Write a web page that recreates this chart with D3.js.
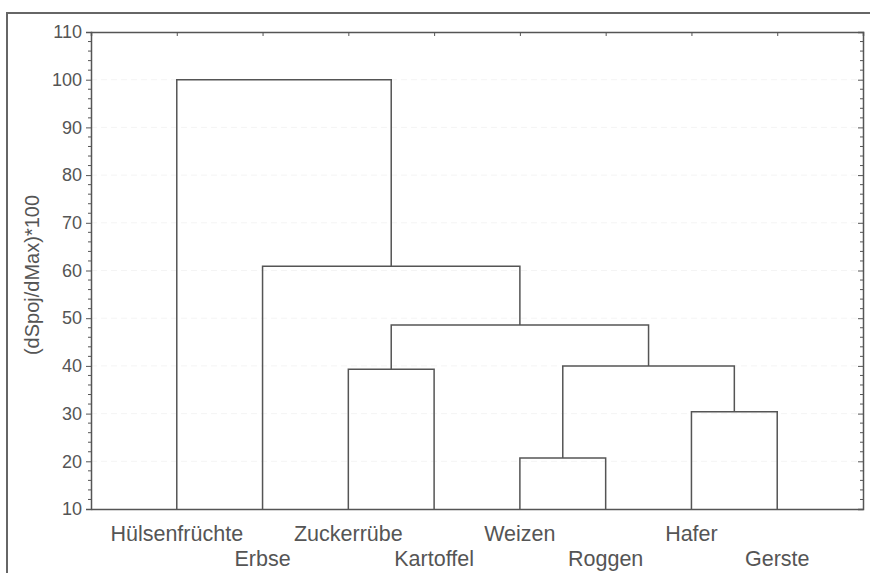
<!DOCTYPE html>
<html>
<head>
<meta charset="utf-8">
<script src="https://cdn.jsdelivr.net/npm/d3@7"></script>
<style>
  body { margin: 0; background: #fff; }
  svg { display: block; font-family: "Liberation Sans", Arial, sans-serif; }
</style>
</head>
<body>
<svg id="chart" width="871" height="573"></svg>
<script>
// Leaves in dendrogram order (left → right)
const leaves = ["Hülsenfrüchte", "Erbse", "Zuckerrübe", "Kartoffel", "Weizen", "Roggen", "Hafer", "Gerste"];

// Agglomeration steps: [left, right, linkage height]; "mN" refers to the N-th merge
const merges = [
  ["Weizen", "Roggen", 20.7],
  ["Hafer", "Gerste", 30.4],
  ["Zuckerrübe", "Kartoffel", 39.3],
  ["m0", "m1", 40.0],
  ["m2", "m3", 48.6],
  ["Erbse", "m4", 60.9],
  ["Hülsenfrüchte", "m5", 100],
];

const yTicks = [10, 20, 30, 40, 50, 60, 70, 80, 90, 100, 110];
const yLabel = "(dSpoj/dMax)*100";

const ink = "#555";
const svg = d3.select("#chart");
const plot = { left: 91, top: 32, right: 863, bottom: 509 };

const x = d3.scaleLinear().domain([0, leaves.length + 1]).range([plot.left, plot.right]);
const y = d3.scaleLinear().domain([10, 110]).range([plot.bottom, plot.top]);

// Outer frame (cut off at right and bottom in the source image)
svg.append("path")
  .attr("d", `M7,${573} V13 H870`)
  .attr("fill", "none")
  .attr("stroke", "#666")
  .attr("stroke-width", 2);

// Very faint horizontal grid
svg.append("g")
  .selectAll("line")
  .data(yTicks.slice(1, -1))
  .join("line")
  .attr("x1", plot.left).attr("x2", plot.right)
  .attr("y1", d => y(d)).attr("y2", d => y(d))
  .attr("stroke", "#f4f4f4")
  .attr("stroke-dasharray", "6 4");

// Axes: left ticks outward, right ticks inward, minor every 2 units
const minor = d3.range(10, 111, 2).filter(v => v % 10 !== 0);
const leftAxis = d3.axisLeft(y).tickValues(yTicks).tickSize(5).tickPadding(4);
const gl = svg.append("g").attr("transform", `translate(${plot.left},0)`).call(leftAxis);
gl.append("g").selectAll("line").data(minor).join("line")
  .attr("x1", 0).attr("x2", -3).attr("y1", d => y(d)).attr("y2", d => y(d))
  .attr("stroke", ink);

const gr = svg.append("g").attr("transform", `translate(${plot.right},0)`)
  .call(d3.axisLeft(y).tickValues(yTicks).tickSize(5).tickFormat(""));
gr.append("g").selectAll("line").data(minor).join("line")
  .attr("x1", 0).attr("x2", -3).attr("y1", d => y(d)).attr("y2", d => y(d))
  .attr("stroke", ink);

const xIdx = d3.range(1, leaves.length + 1);
const gt = svg.append("g").attr("transform", `translate(0,${plot.top})`)
  .call(d3.axisBottom(x).tickValues(xIdx).tickSize(4).tickFormat(""));
const gb = svg.append("g").attr("transform", `translate(0,${plot.bottom})`)
  .call(d3.axisTop(x).tickValues(xIdx).tickSize(0).tickFormat(""));

for (const g of [gl, gr, gt, gb]) {
  g.select(".domain").attr("stroke", ink).attr("stroke-width", 1.5);
  g.selectAll(".tick line").attr("stroke", ink);
}
gl.selectAll(".tick text")
  .attr("fill", ink)
  .style("font-size", "18px");

// Y-axis title
svg.append("text")
  .attr("transform", `translate(39,275) rotate(-90)`)
  .attr("text-anchor", "middle")
  .attr("fill", ink)
  .style("font-size", "20px")
  .text(yLabel);

// Resolve node positions
const pos = {};
leaves.forEach((name, i) => { pos[name] = { x: x(i + 1), h: 10 }; });
const links = svg.append("g")
  .attr("fill", "none")
  .attr("stroke", ink)
  .attr("stroke-width", 1.5);
merges.forEach(([a, b, h], i) => {
  const pa = pos[a], pb = pos[b];
  links.append("path")
    .attr("d", `M${pa.x},${y(pa.h)} V${y(h)} H${pb.x} V${y(pb.h)}`);
  pos["m" + i] = { x: (pa.x + pb.x) / 2, h };
});

// Leaf labels, staggered on two rows
svg.append("g")
  .selectAll("text")
  .data(leaves)
  .join("text")
  .attr("x", (d, i) => x(i + 1))
  .attr("y", (d, i) => i % 2 === 0 ? 541 : 566)
  .attr("text-anchor", "middle")
  .attr("fill", ink)
  .style("font-size", "21.5px")
  .text(d => d);
</script>
</body>
</html>
